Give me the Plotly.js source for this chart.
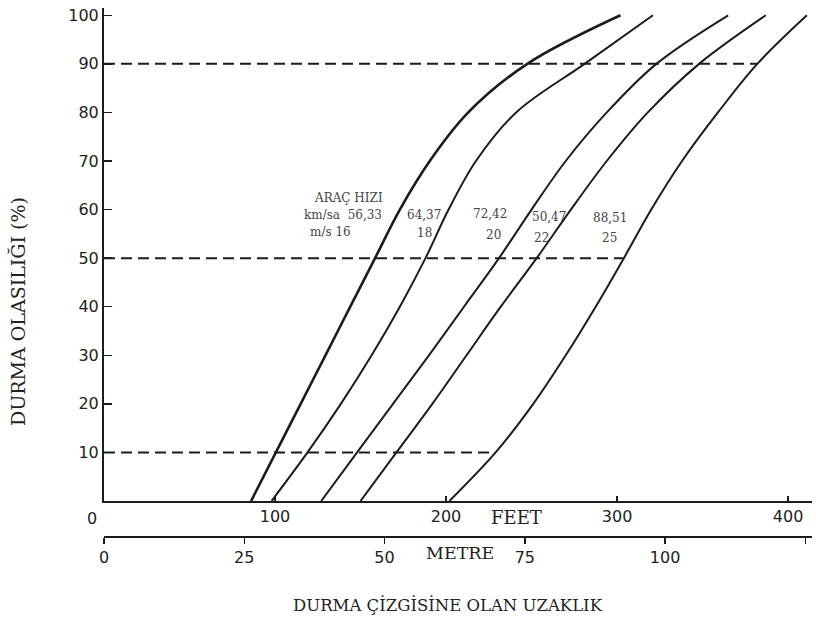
<!DOCTYPE html>
<html>
<head>
<meta charset="utf-8">
<script src="https://cdn.plot.ly/plotly-3.0.1.min.js"></script>
<style>
  html, body { margin: 0; padding: 0; background: #fff; }
  #chart { width: 816px; height: 621px; }
</style>
</head>
<body>
<div id="chart"></div>
<script>
// Stopping probability (%) against distance to the stop line (feet)
const probability = [0, 10, 20, 30, 40, 50, 60, 70, 80, 90, 100];
const dist16 = [86, 100.5, 115, 129.5, 144, 158.5, 173, 190.5, 213, 247.5, 302];
const dist18 = [98, 119, 138.5, 156.5, 173, 188, 201.5, 217.5, 241, 281, 321];
const dist20 = [127, 148, 169, 190, 210.5, 231, 250, 270, 294, 323, 365];
const dist22 = [150, 171, 192, 212, 232, 253, 273, 294, 318, 348, 387];
const dist25 = [202, 229, 251, 270, 287.5, 304, 320, 338, 359, 382, 411];

// Vehicle speed labels
const speedKmh = ['56,33', '64,37', '72,42', '50,47', '88,51'];
const speedMs = ['16', '18', '20', '22', '25'];

// Reference probability levels (dashed guides)
const guideLevels = [10, 50, 90];

// Axis ticks
const probTicks = [10, 20, 30, 40, 50, 60, 70, 80, 90, 100];
const feetTicks = [0, 100, 200, 300, 400];
const metreTicks = [0, 25, 50, 75, 100, 125];

const FT_PER_M = 3.2808;
const INK = '#1c1c1c';
const serif = 'DejaVu Serif, Liberation Serif, serif';
const sans = 'DejaVu Sans, Arial, sans-serif';

// Page geometry (px)
const W = 816, H = 621;
const M = { l: 104, r: 4, t: 8, b: 84 };
const plotW = W - M.l - M.r, plotH = H - M.t - M.b;
const zeroY = 501; // pixel row of the probability axis origin
const px = (x) => (x - M.l) / plotW;
const py = (y) => (H - M.b - y) / plotH;

const curves = [dist16, dist18, dist20, dist22, dist25];
const traces = curves.map((d, i) => ({
  type: 'scatter', mode: 'lines',
  x: d, y: probability,
  line: { color: INK, width: i === 0 ? 2.6 : 2, shape: 'spline', smoothing: 1 },
  hoverinfo: 'skip', showlegend: false
}));

// Dashed guides run from the axis to the 25 m/s curve
guideLevels.forEach((lvl) => {
  const end = dist25[probability.indexOf(lvl)];
  traces.unshift({
    type: 'scatter', mode: 'lines',
    x: [0, end], y: [lvl, lvl],
    line: { color: INK, width: 2, dash: '11px,6px' },
    hoverinfo: 'skip', showlegend: false
  });
});

// Carrier trace so the metre scale is laid out
traces.push({
  type: 'scatter', mode: 'lines', xaxis: 'x2', yaxis: 'y',
  x: [0, 414 / FT_PER_M], y: [null, null],
  hoverinfo: 'skip', showlegend: false
});

const labelFont = { family: serif, size: 12, color: '#444' };
const kmhPos = [[139.5, 58.9], [187.1, 58.9], [225.7, 59.1], [260.2, 58.4], [295.9, 58.2]];
const msPos = [[132.5, 55.3], [187.7, 55.1], [227.5, 54.7], [255.6, 54.1], [295.3, 54.1]];

const annotations = [
  { x: 142.7, y: 62.4, xref: 'x', yref: 'y', text: 'ARAÇ HIZI', showarrow: false, font: labelFont },
  { x: kmhPos[0][0], y: kmhPos[0][1], xref: 'x', yref: 'y', text: 'km/sa  ' + speedKmh[0], showarrow: false, font: labelFont },
  { x: msPos[0][0], y: msPos[0][1], xref: 'x', yref: 'y', text: 'm/s ' + speedMs[0], showarrow: false, font: labelFont }
];
for (let i = 1; i < speedKmh.length; i++) {
  annotations.push({ x: kmhPos[i][0], y: kmhPos[i][1], xref: 'x', yref: 'y', text: speedKmh[i], showarrow: false, font: labelFont });
  annotations.push({ x: msPos[i][0], y: msPos[i][1], xref: 'x', yref: 'y', text: speedMs[i], showarrow: false, font: labelFont });
}

const pxNote = (x, y, text, font, extra) => Object.assign({
  x: px(x), y: py(y), xref: 'paper', yref: 'paper', text, showarrow: false, font,
  xanchor: 'center', yanchor: 'middle'
}, extra || {});

const tickFont = { family: sans, size: 16, color: '#222' };
annotations.push(pxNote(92, 518, String(feetTicks[0]), tickFont));
annotations.push(pxNote(516, 517, 'FEET', { family: serif, size: 18, color: '#222' }));
annotations.push(pxNote(460, 553, 'METRE', { family: serif, size: 17.5, color: '#222' }));
annotations.push(pxNote(448, 605, 'DURMA ÇİZGİSİNE OLAN UZAKLIK', { family: serif, size: 16.5, color: '#222' }));
annotations.push(pxNote(18, 312, 'DURMA OLASILIĞI (%)', { family: serif, size: 19, color: '#222' }, { textangle: -90 }));

const layout = {
  width: W, height: H,
  margin: M,
  paper_bgcolor: '#fff', plot_bgcolor: '#fff',
  showlegend: false,
  font: { family: sans, color: '#222' },
  xaxis: {
    domain: [0, 1], range: [0, 414], anchor: 'y',
    showline: true, linewidth: 2, linecolor: INK,
    ticks: 'inside', ticklen: 5, tickwidth: 1.5, tickcolor: INK,
    tickvals: feetTicks.slice(1), ticktext: feetTicks.slice(1).map(String),
    tickfont: tickFont,
    showgrid: false, zeroline: false, fixedrange: true
  },
  xaxis2: {
    overlaying: 'x', anchor: 'free', position: 0, side: 'bottom',
    range: [0, 414 / FT_PER_M],
    showline: true, linewidth: 2, linecolor: INK,
    ticks: 'outside', ticklen: 6, tickwidth: 1.5, tickcolor: INK,
    tickvals: metreTicks, ticktext: metreTicks.map(String),
    tickfont: tickFont,
    showgrid: false, zeroline: false, fixedrange: true
  },
  yaxis: {
    domain: [(H - M.b - zeroY) / plotH, 1], range: [0, 101.5], anchor: 'x',
    showline: true, linewidth: 2, linecolor: INK,
    ticks: 'inside', ticklen: 8, tickwidth: 1.5, tickcolor: INK,
    tickvals: probTicks, ticktext: probTicks.map(String),
    tickfont: tickFont,
    showgrid: false, zeroline: false, fixedrange: true
  },
  annotations
};

Plotly.newPlot('chart', traces, layout, { staticPlot: true, displayModeBar: false });
</script>
</body>
</html>
